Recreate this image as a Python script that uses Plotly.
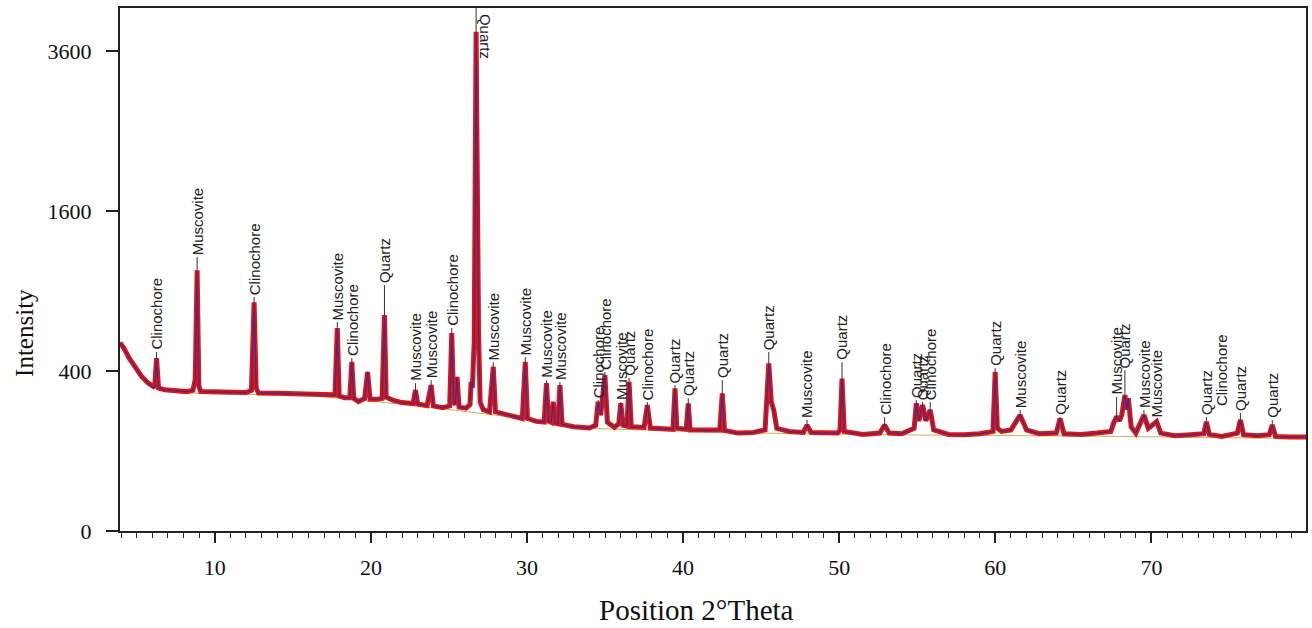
import numpy as np
import plotly.graph_objects as go

# ---------------- data ----------------
# observed pattern: 2theta (deg) and intensity (counts)
obs_tt = [3.93, 4.2, 4.5, 4.9, 5.3, 5.7, 6.0, 6.15, 6.27, 6.4, 6.8, 7.5, 8.2, 8.6, 8.75, 8.87, 8.98, 9.1,
          10.0, 11.0, 12.0, 12.35, 12.52, 12.65, 12.8, 14.0, 15.5, 17.0, 17.7, 17.85, 17.97, 18.3,
          18.65, 18.78, 18.9, 19.2, 19.6, 19.79, 19.95, 20.4, 20.72, 20.87, 20.98, 21.4, 22.0, 22.7,
          22.86, 23.0, 23.6, 23.86, 24.0, 24.6, 25.05, 25.18, 25.3, 25.4, 25.52, 25.65, 26.1, 26.35,
          26.42, 26.5, 26.62, 26.74, 26.82, 26.9, 27.0, 27.2, 27.6, 27.84, 27.98, 28.5, 29.2, 29.7,
          29.89, 30.03, 30.6, 31.1, 31.25, 31.38, 31.55, 31.68, 31.8, 31.98, 32.11, 32.25, 33.0, 34.0,
          34.4, 34.56, 34.72, 34.99, 35.15, 35.6, 35.88, 36.01, 36.15, 36.4, 36.54, 36.68, 37.5, 37.71,
          37.9, 38.8, 39.35, 39.48, 39.6, 40.2, 40.33, 40.45, 41.5, 42.35, 42.51, 42.65, 43.5, 44.5,
          45.25, 45.49, 45.65, 45.81, 46.0, 46.8, 47.7, 47.94, 48.2, 49.0, 49.9, 50.05, 50.18, 50.32,
          51.5, 52.6, 52.91, 53.2, 54.0, 54.8, 54.94, 55.1, 55.34, 55.55, 55.83, 56.05, 57.0, 58.0,
          59.0, 59.85, 59.99, 60.13, 60.4, 61.0, 61.59, 62.0, 62.8, 63.9, 64.15, 64.4, 65.5, 66.5,
          67.4, 67.6, 67.77, 67.95, 68.1, 68.3, 68.42, 68.52, 68.7, 69.0, 69.52, 69.8, 70.33, 70.6,
          71.5, 72.5, 73.35, 73.52, 73.7, 74.5, 75.5, 75.7, 75.9, 76.8, 77.55, 77.74, 77.95, 78.8, 79.9]
obs_I = [555, 520, 470, 420, 375, 345, 325, 322, 468, 320, 312, 308, 304, 310, 360, 1064, 330, 304,
         302, 300, 300, 310, 819, 320, 298, 297, 295, 290, 290, 644, 285, 278,
         278, 448, 275, 262, 275, 396, 272, 272, 275, 729, 280, 268, 258, 254,
         311, 252, 246, 333, 245, 238, 245, 613, 260, 250, 372, 240, 236, 250,
         348, 320, 560, 3900, 1500, 600, 260, 230, 222, 422, 222, 215, 205, 198,
         448, 198, 188, 186, 342, 190, 185, 261, 182, 180, 333, 178, 170, 166,
         175, 261, 210, 380, 185, 168, 180, 255, 175, 172, 348, 170, 168, 248,
         166, 164, 162, 318, 165, 162, 255, 160, 158, 160, 296, 158, 150, 152,
         160, 439, 260, 229, 165, 155, 152, 175, 152, 150, 150, 160, 364, 155,
         146, 150, 176, 150, 148, 165, 255, 190, 248, 190, 229, 160, 146, 145,
         148, 155, 396, 165, 155, 160, 210, 160, 148, 150, 198, 148, 146, 150,
         155, 185, 205, 190, 210, 289, 230, 276, 170, 150, 210, 165, 187, 150,
         142, 145, 148, 187, 146, 140, 150, 193, 145, 142, 145, 176, 140, 138, 138]

# fitted background
bg_tt = [3.93, 5.0, 6.0, 8.0, 12.0, 16.0, 20.0, 24.0, 28.0, 30.0, 33.0, 38.0, 42.0, 46.0, 50.0,
         55.0, 60.0, 65.0, 70.0, 75.0, 79.9]
bg_I = [540, 395, 325, 298, 292, 288, 264, 238, 210, 194, 166, 158, 153, 149, 146,
        144, 143, 142, 139, 136, 134]

# phase labels: position, name, intensity at the foot of the text, intensity at the peak top
lab_tt = [6.27, 8.87, 12.52, 17.85, 18.78, 20.87, 22.86, 23.86, 25.18, 26.74, 27.84, 29.89, 31.25,
          32.11, 34.56, 34.99, 36.01, 36.54, 37.71, 39.48, 40.33, 42.51, 45.49, 47.94, 50.18, 52.91,
          54.94, 55.34, 55.83, 59.99, 61.59, 64.15, 67.77, 68.30, 69.52, 70.33, 73.52, 74.45, 75.70,
          77.74]
lab_name = ["Clinochore", "Muscovite", "Clinochore", "Muscovite", "Clinochore", "Quartz",
            "Muscovite", "Muscovite", "Clinochore", "Quartz", "Muscovite", "Muscovite", "Muscovite",
            "Muscovite", "Clinochore", "Clinochore", "Muscovite", "Quartz", "Clinochore", "Quartz",
            "Quartz", "Quartz", "Quartz", "Muscovite", "Quartz", "Clinochore", "Quartz", "Quartz",
            "Clinochore", "Quartz", "Muscovite", "Quartz", "Muscovite", "Quartz", "Muscovite",
            "Muscovite", "Quartz", "Clinochore", "Quartz", "Quartz"]
lab_base = [501, 1173, 856, 683, 468, 946, 342, 356, 644, 4300, 446, 473, 356, 347, 268, 395, 260,
            366, 260, 333, 276, 356, 501, 193, 446, 203, 268, 260, 260, 415, 229, 203, 281, 405, 229,
            193, 203, 236, 218, 193]
lab_peak = [468, 1064, 819, 644, 448, 729, 311, 333, 613, 3900, 422, 448, 342, 333, 261, 380, 255,
            348, 248, 318, 255, 296, 439, 175, 364, 176, 255, 248, 229, 396, 210, 198, 205, 289, 210,
            187, 187, 236, 193, 176]

x_ticks = [10, 20, 30, 40, 50, 60, 70]
y_ticks = [0, 400, 1600, 3600]
x_range = [3.93, 79.9]
y_max = 4280

# ---------------- figure ----------------
sq = np.sqrt  # square-root intensity scale
fig = go.Figure()

fig.add_trace(go.Scatter(x=bg_tt, y=sq(bg_I), mode="lines",
                         line=dict(color="#c8b45a", width=1), hoverinfo="skip"))
fig.add_trace(go.Scatter(x=obs_tt, y=sq(obs_I), mode="lines",
                         line=dict(color="#e4150c", width=5), hoverinfo="skip"))
fig.add_trace(go.Scatter(x=obs_tt, y=sq(obs_I), mode="lines",
                         line=dict(color="#4a2a86", width=1.4)))

# leader lines from peak tops to labels
lx, ly = [], []
for t, b, p in zip(lab_tt, lab_base, lab_peak):
    if b > p:
        lx += [t, t, None]
        ly += [sq(p), sq(b), None]
fig.add_trace(go.Scatter(x=lx, y=ly, mode="lines", line=dict(color="#333333", width=1),
                         hoverinfo="skip"))

lab_font = dict(family="Liberation Sans, Arial", size=15, color="#222")
for t, name, b in zip(lab_tt, lab_name, lab_base):
    if b >= y_max:
        fig.add_annotation(x=t, y=sq(y_max), text=name, textangle=90, showarrow=False,
                           xanchor="left", yanchor="top", xshift=-1, yshift=-4, font=lab_font)
    else:
        fig.add_annotation(x=t, y=sq(b), text=name, textangle=-90, showarrow=False,
                           xanchor="center", yanchor="bottom", yshift=0, font=lab_font)

fig.add_annotation(text="Intensity", xref="paper", yref="paper", x=-0.080, y=0.379,
                   textangle=-90, showarrow=False, xanchor="center", yanchor="middle",
                   font=dict(family="Liberation Serif, Times New Roman", size=25, color="#111"))
fig.add_annotation(text="Position 2°Theta", xref="paper", yref="paper", x=0.486, y=-0.151,
                   showarrow=False, xanchor="center", yanchor="middle",
                   font=dict(family="Liberation Serif, Times New Roman", size=29, color="#111"))

fig.update_layout(
    width=1312, height=628, margin=dict(l=120, r=4, t=8, b=97),
    paper_bgcolor="white", plot_bgcolor="white", showlegend=False,
    font=dict(family="Liberation Serif, Times New Roman", size=22, color="#111"),
)
fig.update_xaxes(range=x_range, tickvals=x_ticks, ticks="outside", ticklen=10, tickwidth=1.5,
                 tickcolor="#222", showline=True, linecolor="#222", linewidth=2, mirror=True,
                 showgrid=False, zeroline=False, ticklabelstandoff=6,
                 minor=dict(dtick=1, tick0=0, ticks="outside", ticklen=5, tickcolor="#222",
                            tickwidth=1, showgrid=False))
fig.update_yaxes(range=[0, sq(y_max)], tickvals=sq(y_ticks), ticktext=[str(v) for v in y_ticks],
                 ticks="outside", ticklen=12, tickwidth=1.5, tickcolor="#222", showline=True,
                 linecolor="#222", linewidth=2, mirror=True, showgrid=False, zeroline=False,
                 ticklabelstandoff=10)

fig.write_html("out.html")
